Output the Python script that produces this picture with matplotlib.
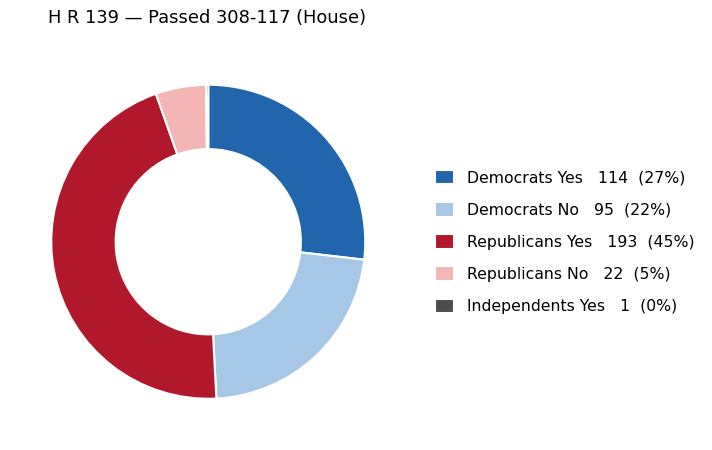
import matplotlib
matplotlib.use("Agg")
import matplotlib.pyplot as plt

categories = ["Democrats Yes", "Democrats No", "Republicans Yes", "Republicans No", "Independents Yes"]
values = [114, 95, 193, 22, 1]
colors = ["#2166ac", "#a6c8e6", "#b2182b", "#f4b6b4", "#4d4d4d"]
title = "H R 139 \u2014 Passed 308-117 (House)"

total = sum(values)
labels = [f"{c}   {v}  ({round(100*v/total)}%)" for c, v in zip(categories, values)]

fig = plt.figure(figsize=(7.12, 4.5), dpi=100)
ax = fig.add_axes([12/712, 12/450, 392.5/712, 392.5/450])
wedges, _ = ax.pie(values, colors=colors, startangle=90, counterclock=False,
                   wedgeprops=dict(width=0.41, edgecolor="white", linewidth=1.5))
ax.set_aspect("equal")

fig.text(48/712, 1 - 18/450, title, fontsize=12.9, ha="left", va="center")

fig.legend(wedges, labels, loc="center left", bbox_to_anchor=(435/712, 1 - 242/450),
           frameon=False, fontsize=11.3, handlelength=1.22, handleheight=1.07,
           handletextpad=0.82, labelspacing=1.05, borderpad=0, borderaxespad=0)

fig.savefig("out.png", dpi=100)
